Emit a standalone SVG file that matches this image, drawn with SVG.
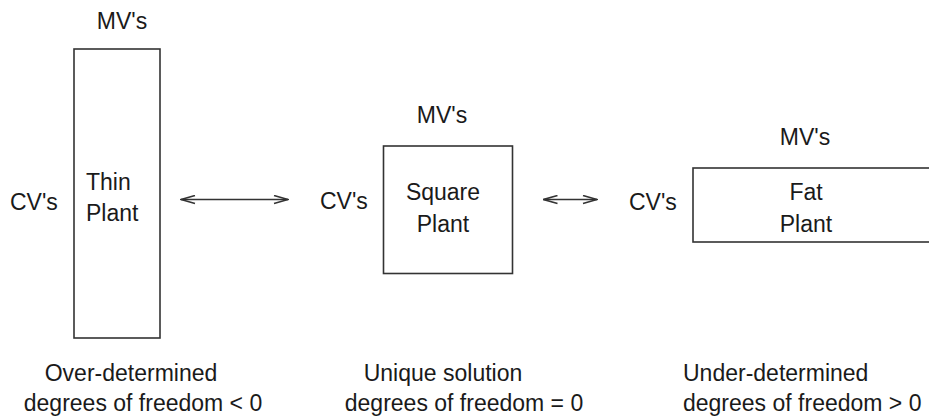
<svg xmlns="http://www.w3.org/2000/svg" width="929" height="419" viewBox="0 0 929 419">
  <style>
    text { font-family: "Liberation Sans", Arial, sans-serif; font-size: 23px; fill: #1a1a1a; }
    .plant { fill: #ffffff; stroke: #333333; stroke-width: 1.6; }
    .link { stroke: #333333; stroke-width: 1.6; fill: none; }
    .mid { text-anchor: middle; }
  </style>
  <defs>
    <marker id="openHead" viewBox="0 0 16 10" refX="15" refY="5" markerWidth="16" markerHeight="10" markerUnits="userSpaceOnUse" orient="auto-start-reverse">
      <path d="M1,1 L15,5 L1,9" fill="none" stroke="#333333" stroke-width="1.6"/>
    </marker>
  </defs>
  <rect width="929" height="419" fill="#ffffff"/>

  <g id="thin-plant">
    <rect class="plant" x="74" y="49" width="86" height="289"/>
    <text x="122" y="29" class="mid">MV's</text>
    <text x="10" y="210">CV's</text>
    <text x="86" y="190">Thin</text>
    <text x="86" y="221">Plant</text>
    <text x="131" y="381" class="mid">Over-determined</text>
    <text x="143" y="411" class="mid">degrees of freedom &lt; 0</text>
  </g>

  <g id="square-plant">
    <rect class="plant" x="383.5" y="146" width="129" height="127.5"/>
    <text x="442" y="123" class="mid">MV's</text>
    <text x="320" y="209">CV's</text>
    <text x="443" y="200" class="mid">Square</text>
    <text x="443" y="231.5" class="mid">Plant</text>
    <text x="443" y="381" class="mid">Unique solution</text>
    <text x="464" y="411" class="mid">degrees of freedom = 0</text>
  </g>

  <g id="fat-plant">
    <rect class="plant" x="693" y="168" width="250" height="74"/>
    <text x="805" y="145" class="mid">MV's</text>
    <text x="629" y="210">CV's</text>
    <text x="806" y="200" class="mid">Fat</text>
    <text x="806" y="231.5" class="mid">Plant</text>
    <text x="683" y="381">Under-determined</text>
    <text x="683" y="411">degrees of freedom &gt; 0</text>
  </g>

  <g id="connectors">
    <line class="link" x1="181" y1="199.5" x2="288" y2="199.5" marker-start="url(#openHead)" marker-end="url(#openHead)"/>
    <line class="link" x1="543.5" y1="199.5" x2="597" y2="199.5" marker-start="url(#openHead)" marker-end="url(#openHead)"/>
  </g>
</svg>
